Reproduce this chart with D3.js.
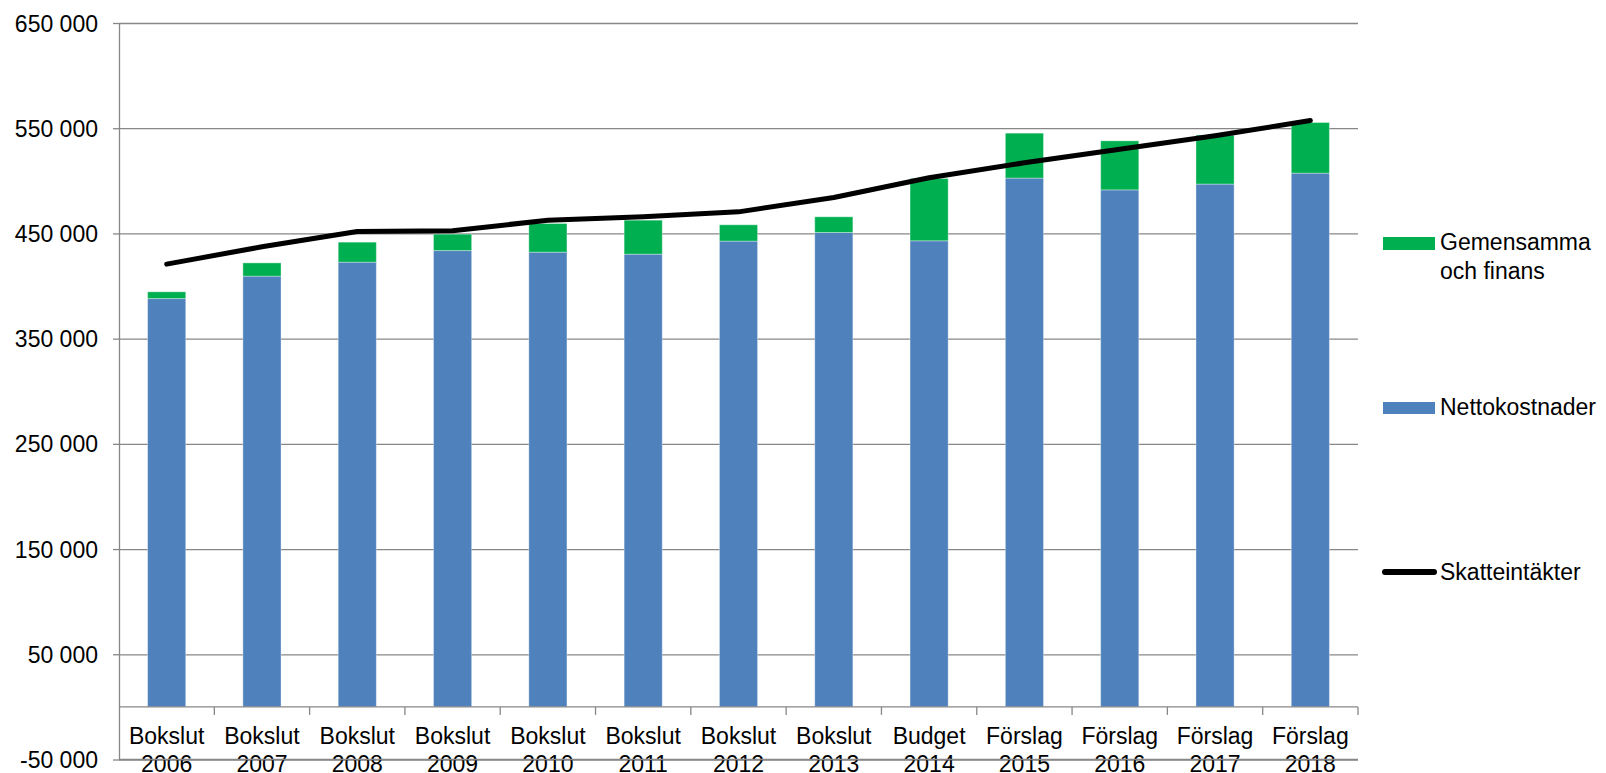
<!DOCTYPE html>
<html>
<head>
<meta charset="utf-8">
<script src="https://cdn.jsdelivr.net/npm/d3@7"></script>
<style>
html,body{margin:0;padding:0;background:#fff;}
svg{display:block;}
text{font-family:"Liberation Sans",Arial,sans-serif;fill:#000;}
</style>
</head>
<body>
<svg id="chart" width="1606" height="773"></svg>
<script>
// ---- data ----
const categoryType = ["Bokslut","Bokslut","Bokslut","Bokslut","Bokslut","Bokslut","Bokslut","Bokslut","Budget","Förslag","Förslag","Förslag","Förslag"];
const years = ["2006","2007","2008","2009","2010","2011","2012","2013","2014","2015","2016","2017","2018"];
const nettokostnader = [388100,409400,422700,433700,432200,430300,442700,450900,443000,502600,491400,496900,507300];
const gemensamma = [6400,12600,19000,15600,27200,32300,15500,14900,59200,42700,46600,46500,48100];
const skatteintakter = [420800,437300,451800,452500,462600,465800,470500,484100,502900,517100,530100,542800,557300];
const yTicks = [-50000,50000,150000,250000,350000,450000,550000,650000];
const seriesNames = {green:"Gemensamma och finans", blue:"Nettokostnader", line:"Skatteintäkter"};

// ---- layout ----
const svg = d3.select("#chart");
const X0 = 119, X1 = 1358, YTOP = 23, YBOT = 759.5;
const gridColor = "#878787";
const blue = "#4F81BD", green = "#00B050";
const fontSize = 23;

const keys = years.map((y,i)=>i);
const x = d3.scaleBand().domain(keys).range([X0, X1]).paddingInner(0.6).paddingOuter(0.3);
const y = d3.scaleLinear().domain([-50000, 650000]).range([YBOT, YTOP]);

const locale = d3.formatLocale({decimal:",", thousands:" ", grouping:[3], currency:["",""], minus:"-"});
const fmt = locale.format(",");

// gridlines
const grid = svg.append("g").attr("transform", `translate(${X0},0)`)
  .call(d3.axisLeft(y).tickValues(yTicks).tickSize(-(X1 - X0)).tickFormat(""));
grid.select(".domain").remove();
grid.selectAll("line").attr("stroke", gridColor).attr("stroke-width", 1.3);

// y axis with outer ticks and labels
const yAxis = svg.append("g").attr("transform", `translate(${X0},0)`)
  .call(d3.axisLeft(y).tickValues(yTicks).tickSize(6).tickSizeOuter(0).tickPadding(15).tickFormat(fmt));
yAxis.select(".domain").attr("stroke", gridColor).attr("stroke-width", 1.3);
yAxis.selectAll("line").attr("stroke", gridColor).attr("stroke-width", 1.3);
yAxis.selectAll("text").attr("font-size", fontSize).attr("font-family", "Liberation Sans, Arial, sans-serif").attr("fill", "#000").attr("dy", "0.35em");

// bars
const bars = svg.append("g");
bars.selectAll("rect.netto").data(keys).join("rect")
  .attr("x", i => x(i)).attr("width", x.bandwidth())
  .attr("y", i => y(nettokostnader[i])).attr("height", i => y(0) - y(nettokostnader[i]))
  .attr("fill", blue).attr("stroke", "rgba(255,255,255,0.35)").attr("stroke-width", 1);
bars.selectAll("rect.gem").data(keys).join("rect")
  .attr("x", i => x(i)).attr("width", x.bandwidth())
  .attr("y", i => y(nettokostnader[i] + gemensamma[i])).attr("height", i => y(nettokostnader[i]) - y(nettokostnader[i] + gemensamma[i]))
  .attr("fill", green).attr("stroke", "rgba(255,255,255,0.35)").attr("stroke-width", 1);

// x axis at zero
const boundaries = d3.range(years.length + 1).map(k => X0 + k * x.step());
svg.append("line").attr("x1", X0).attr("x2", X1).attr("y1", y(0)).attr("y2", y(0))
  .attr("stroke", gridColor).attr("stroke-width", 1.3);
svg.append("g").selectAll("line").data(boundaries.slice(1)).join("line")
  .attr("x1", d => d).attr("x2", d => d).attr("y1", y(0)).attr("y2", y(0) + 8)
  .attr("stroke", gridColor).attr("stroke-width", 1.3);

// category labels
const cx = i => x(i) + x.bandwidth() / 2;
const lab = svg.append("g");
lab.selectAll("text.t1").data(keys).join("text")
  .attr("x", cx).attr("y", 744).attr("text-anchor", "middle").attr("font-size", fontSize)
  .text(i => categoryType[i]);
lab.selectAll("text.t2").data(keys).join("text")
  .attr("x", cx).attr("y", 771.5).attr("text-anchor", "middle").attr("font-size", fontSize)
  .text(i => years[i]);

// redraw bottom gridline over labels
svg.append("line").attr("x1", X0).attr("x2", X1).attr("y1", y(-50000)).attr("y2", y(-50000))
  .attr("stroke", gridColor).attr("stroke-width", 1.3);

// line series
const line = d3.line().x(i => cx(i)).y(i => y(skatteintakter[i]));
svg.append("path").attr("d", line(keys)).attr("fill", "none")
  .attr("stroke", "#000").attr("stroke-width", 5).attr("stroke-linecap", "round").attr("stroke-linejoin", "round");

// legend
const lg = svg.append("g");
lg.append("rect").attr("x", 1383).attr("y", 237).attr("width", 52).attr("height", 13).attr("fill", green);
lg.append("text").attr("x", 1440).attr("y", 250).attr("font-size", fontSize).text("Gemensamma");
lg.append("text").attr("x", 1440).attr("y", 279).attr("font-size", fontSize).text("och finans");
lg.append("rect").attr("x", 1383).attr("y", 402).attr("width", 52).attr("height", 12).attr("fill", blue);
lg.append("text").attr("x", 1440).attr("y", 415).attr("font-size", fontSize).text(seriesNames.blue);
lg.append("line").attr("x1", 1385).attr("x2", 1434).attr("y1", 572).attr("y2", 572)
  .attr("stroke", "#000").attr("stroke-width", 6).attr("stroke-linecap", "round");
lg.append("text").attr("x", 1440).attr("y", 580).attr("font-size", fontSize).text(seriesNames.line);
</script>
</body>
</html>
